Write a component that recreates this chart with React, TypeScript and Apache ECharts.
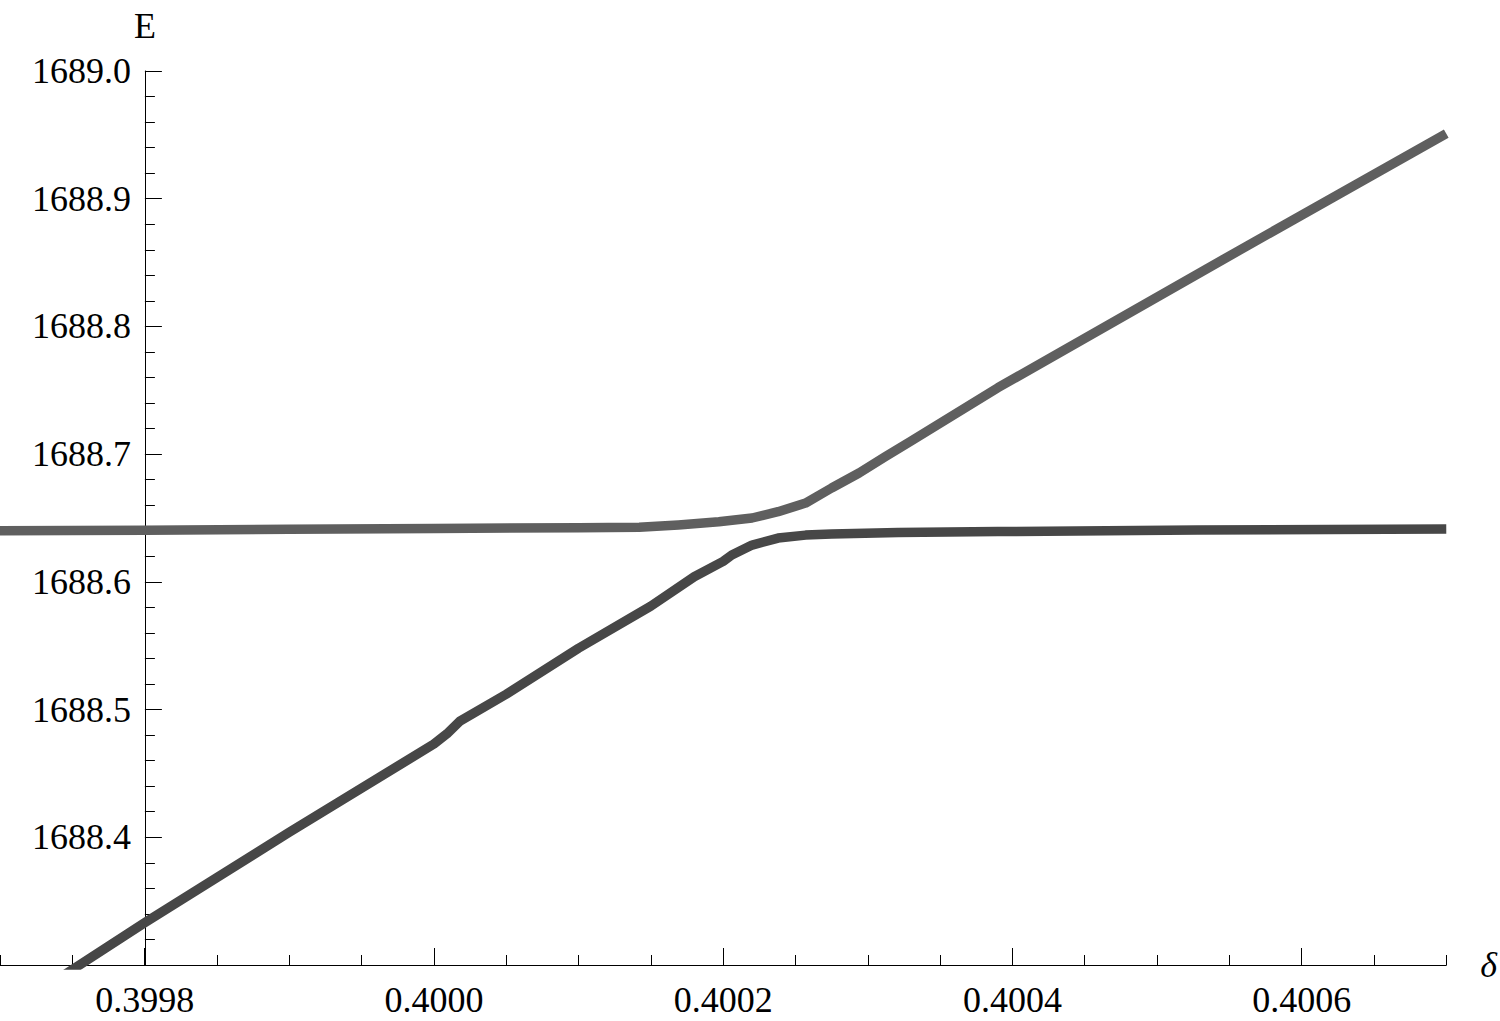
import React, { useEffect, useRef } from "react";
import * as echarts from "echarts";

// Axis ranges and ticks
const xMin = 0.3997;
const xMax = 0.4007;
const yMin = 1688.3;
const yMax = 1689.0;
const yInterval = 0.1;
const xMajorTicks = [0.3998, 0.4, 0.4002, 0.4004, 0.4006];
const xMinorInterval = 0.00005;
const yAxisCrossAt = 0.3998;

// Upper branch (lighter gray)
const upperDelta = [
  0.3997, 0.3998, 0.3999, 0.4, 0.4001, 0.400142, 0.400169, 0.400197, 0.40022,
  0.400238, 0.400257, 0.400275, 0.400294, 0.400312, 0.40033, 0.40039, 0.400545,
  0.4007,
];
const upperE = [
  1688.64, 1688.6405, 1688.6412, 1688.6418, 1688.6424, 1688.6427, 1688.6445,
  1688.647, 1688.65, 1688.6549, 1688.6617, 1688.6735, 1688.6852, 1688.698,
  1688.7103, 1688.752, 1688.852, 1688.951,
];

// Lower branch (darker gray)
const lowerDelta = [
  0.39974, 0.3998, 0.3999, 0.4, 0.400009, 0.400018, 0.40005, 0.4001, 0.40015,
  0.40018, 0.4002, 0.400206, 0.40022, 0.400238, 0.400257, 0.400275, 0.400321,
  0.40039, 0.400528, 0.4007,
];
const lowerE = [
  1688.289, 1688.333, 1688.404, 1688.473, 1688.481, 1688.491, 1688.512,
  1688.548, 1688.581, 1688.604, 1688.616, 1688.621, 1688.6288, 1688.6343,
  1688.6366, 1688.6374, 1688.6386, 1688.6394, 1688.6406, 1688.6414,
];

const W = 1500;
const H = 1021;
const gridLeft = 0;
const gridRight = 51;
const gridTop = 71;
const gridBottom = 56;
const FONT = "'Liberation Serif', 'DejaVu Serif', serif";

export default function App() {
  const ref = useRef<HTMLDivElement>(null);
  useEffect(() => {
    if (!ref.current) return;
    const chart = echarts.init(ref.current, undefined, { renderer: "svg" });
    const gridWidth = W - gridLeft - gridRight;
    const yOffset = -gridWidth * ((yAxisCrossAt - xMin) / (xMax - xMin));
    const upper = upperDelta.map((d, i) => [d, upperE[i]]);
    const lower = lowerDelta.map((d, i) => [d, lowerE[i]]);
    chart.setOption({
      animation: false,
      backgroundColor: "#ffffff",
      grid: { left: gridLeft, right: gridRight, top: gridTop, bottom: gridBottom, containLabel: false },
      xAxis: [
        {
          type: "value",
          min: xMin,
          max: xMax,
          position: "bottom",
          name: "δ",
          nameLocation: "end",
          nameGap: 34,
          nameTextStyle: { fontFamily: FONT, fontSize: 36, fontStyle: "italic", color: "#000" },
          axisLine: { show: true, onZero: false, lineStyle: { color: "#000", width: 1 } },
          axisTick: { show: true, inside: true, length: 17, customValues: xMajorTicks, lineStyle: { color: "#000", width: 1 } },
          axisLabel: {
            show: true,
            customValues: xMajorTicks,
            margin: 17,
            fontFamily: FONT,
            fontSize: 36,
            color: "#000",
            formatter: (v: number) => v.toFixed(4),
          },
          splitLine: { show: false },
        },
        {
          type: "value",
          min: xMin,
          max: xMax,
          interval: xMinorInterval,
          position: "bottom",
          axisLine: { show: false, onZero: false },
          axisTick: { show: true, inside: true, length: 10, lineStyle: { color: "#000", width: 1 } },
          axisLabel: { show: false },
          splitLine: { show: false },
        },
      ],
      yAxis: {
        type: "value",
        min: yMin,
        max: yMax,
        interval: yInterval,
        position: "left",
        offset: yOffset,
        name: "E",
        nameLocation: "end",
        nameGap: 27,
        nameTextStyle: { fontFamily: FONT, fontSize: 36, color: "#000", align: "center" },
        axisLine: { show: true, onZero: false, lineStyle: { color: "#000", width: 1 } },
        axisTick: { show: true, inside: true, length: 17, lineStyle: { color: "#000", width: 1 } },
        minorTick: { show: true, splitNumber: 5, length: 10, lineStyle: { color: "#000", width: 1 } },
        axisLabel: {
          margin: 14,
          fontFamily: FONT,
          fontSize: 36,
          color: "#000",
          formatter: (v: number) => (v < yMin + yInterval / 2 ? "" : v.toFixed(1)),
        },
        splitLine: { show: false },
        minorSplitLine: { show: false },
      },
      series: [
        {
          type: "line",
          name: "lower",
          data: lower,
          xAxisIndex: 0,
          showSymbol: false,
          symbol: "none",
          smooth: false,
          clip: true,
          lineStyle: { color: "#474747", width: 9.5, cap: "butt", join: "round" },
          z: 2,
        },
        {
          type: "line",
          name: "upper",
          data: upper,
          xAxisIndex: 0,
          showSymbol: false,
          symbol: "none",
          smooth: false,
          clip: true,
          lineStyle: { color: "#5f5f5f", width: 9.5, cap: "butt", join: "round" },
          z: 2,
        },
      ],
    });
    return () => chart.dispose();
  }, []);
  return (
    <div
      ref={ref}
      style={{ position: "absolute", left: 0, top: 0, width: W, height: H, background: "#fff" }}
    />
  );
}
